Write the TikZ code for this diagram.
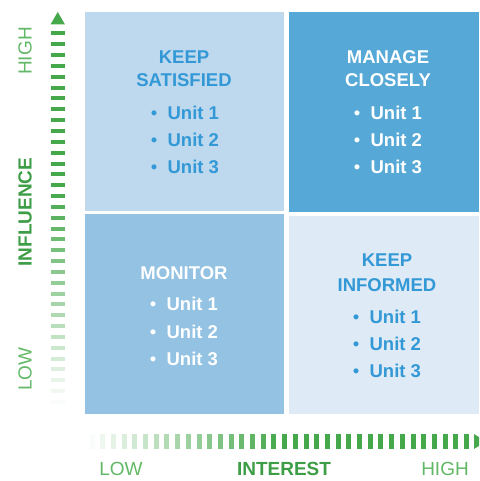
\documentclass[tikz,border=0pt]{standalone}
\usepackage{fontspec}
\setmainfont{Liberation Sans}
\definecolor{qTL}{HTML}{BED8EE}
\definecolor{qTR}{HTML}{56A9D6}
\definecolor{qBL}{HTML}{93C2E3}
\definecolor{qBR}{HTML}{DEEAF5}
\definecolor{qtext}{HTML}{3399D6}
\definecolor{axgreen}{HTML}{45A84B}
\definecolor{lblgreen}{HTML}{62B866}
\definecolor{boldgreen}{HTML}{3E9E47}
\newcommand{\ubul}{{\mdseries\textbullet}\hspace{0.55em}}
\begin{document}
\begin{tikzpicture}[x=1pt,y=-1pt,
  head/.style={font=\fontsize{18.5}{22}\selectfont\bfseries, inner sep=0pt, anchor=center},
  unit/.style={font=\fontsize{18.5}{22}\selectfont\bfseries, inner sep=0pt, anchor=center},
  axlbl/.style={font=\fontsize{19}{22}\selectfont, text=lblgreen, inner sep=0pt},
  axbold/.style={font=\fontsize{19}{22}\selectfont\bfseries, text=boldgreen, inner sep=0pt}]
\useasboundingbox (0,0) rectangle (479,481);
\begin{scope}
\clip (0,0) rectangle (479,481);
% quadrants
\fill[qTL] (85,12) rectangle (284,211);
\fill[qTR] (289,12) rectangle (479,212);
\fill[qBL] (85,214) rectangle (284,414);
\fill[qBR] (289,216) rectangle (479,414);

% top-left
\node[head,text=qtext] (tl1) at (184,57) {KEEP};
\node[head,text=qtext] (tl2) at (184,80) {SATISFIED};
\node[unit,text=qtext] (tl3) at (185,113) {\ubul Unit 1};
\node[unit,text=qtext] (tl4) at (185,140) {\ubul Unit 2};
\node[unit,text=qtext] (tl5) at (185,167) {\ubul Unit 3};
% top-right
\node[head,text=white] (tr1) at (388,57) {MANAGE};
\node[head,text=white] (tr2) at (388,80) {CLOSELY};
\node[unit,text=white] (tr3) at (388,113) {\ubul Unit 1};
\node[unit,text=white] (tr4) at (388,140) {\ubul Unit 2};
\node[unit,text=white] (tr5) at (388,167) {\ubul Unit 3};
% bottom-left
\node[head,text=white] (bl1) at (184,273) {MONITOR};
\node[unit,text=white] (bl2) at (184,304) {\ubul Unit 1};
\node[unit,text=white] (bl3) at (184,332) {\ubul Unit 2};
\node[unit,text=white] (bl4) at (184,359) {\ubul Unit 3};
% bottom-right
\node[head,text=qtext] (br1) at (387,260) {KEEP};
\node[head,text=qtext] (br2) at (387,285) {INFORMED};
\node[unit,text=qtext] (br3) at (387,317) {\ubul Unit 1};
\node[unit,text=qtext] (br4) at (387,344) {\ubul Unit 2};
\node[unit,text=qtext] (br5) at (387,371) {\ubul Unit 3};

% vertical axis dashes
\foreach \i in {0,...,34}{
  \pgfmathsetmacro{\pct}{min(100,3+\i*5)}
  \fill[axgreen!\pct!white] (50.5,{402-\i*10.84-2}) rectangle (65,{402-\i*10.84+2});
}
\fill[axgreen] (50.5,24.5) -- (65,24.5) -- (57.75,12) -- cycle;
% horizontal axis bars
\foreach \i in {0,...,35}{
  \pgfmathsetmacro{\pct}{min(100,3+\i*5.5)}
  \fill[axgreen!\pct!white] ({92+\i*10.7-2.5},434) rectangle ({92+\i*10.7+2.5},449);
}
\fill[axgreen] (474,434) -- (474,449) -- (486,441.5) -- cycle;
\end{scope}

% axis labels
\node[axlbl,rotate=90] (vhigh) at (25,51) {HIGH};
\node[axbold,rotate=90] (vinf) at (25,212) {INFLUENCE};
\node[axlbl,rotate=90] (vlow) at (25,369) {LOW};
\node[axlbl] (hlow) at (121,469) {LOW};
\node[axbold] (hint) at (284,469) {INTEREST};
\node[axlbl] (hhigh) at (445,469) {HIGH};
\end{tikzpicture}
\end{document}
